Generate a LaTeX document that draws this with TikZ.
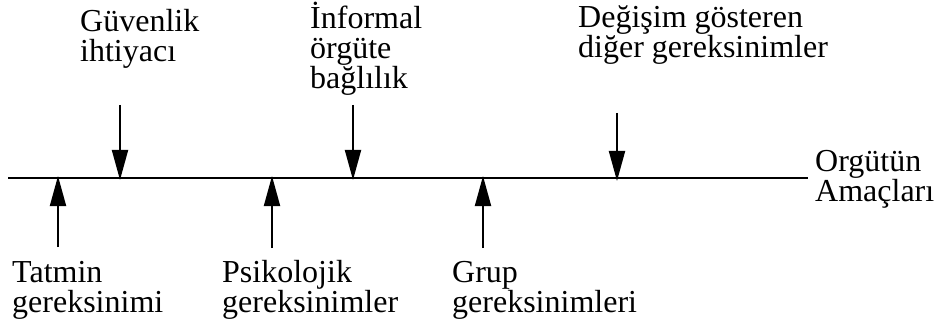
\documentclass[tikz,border=0pt]{standalone}
\usepackage{fontspec}
\setmainfont{Liberation Serif}
\usetikzlibrary{arrows.meta}

\begin{document}
\begin{tikzpicture}[x=1pt,y=-1pt,font=\fontsize{32}{30}\selectfont]
  \useasboundingbox (0,0) rectangle (948,326);
  % The organisation's goals run along one horizontal axis.
  \coordinate (axisL) at (8,178);
  \coordinate (axisR) at (808,178);
  \draw[line width=2.4pt] (axisL) -- (axisR);
  \node[anchor=base west,align=left,inner sep=0pt] (goal) at (815,201) {Orgütün\\Amaçları};

  % Needs pressing on the axis from above and below (anchored at the last baseline).
  \tikzset{need/.style={anchor=base west,align=left,inner sep=0pt},
           push/.style={line width=1.9pt,-{Triangle[length=30pt,width=16pt]}}}
  \node[need] (safety) at (80,62) {Güvenlik\\ihtiyacı};
  \node[need] (informal) at (310,89) {İnformal\\örgüte\\bağlılık};
  \node[need] (other) at (578,58) {Değişim gösteren\\diğer gereksinimler};
  \node[need] (satisf) at (12,312) {Tatmin\\gereksinimi};
  \node[need] (psych) at (222,312) {Psikolojik\\gereksinimler};
  \node[need] (group) at (452,312) {Grup\\gereksinimleri};

  \coordinate (safetyS) at (120,105);  \coordinate (safetyT) at (120,180);
  \coordinate (informalS) at (353,105); \coordinate (informalT) at (353,180);
  \coordinate (otherS) at (617,113);   \coordinate (otherT) at (617,181);
  \coordinate (satisfS) at (58,247);   \coordinate (satisfT) at (58,176);
  \coordinate (psychS) at (272,248);   \coordinate (psychT) at (272,176);
  \coordinate (groupS) at (483,248);   \coordinate (groupT) at (483,176);
  \foreach \n in {safety,informal,other,satisf,psych,group}
    \draw[push] (\n S) -- (\n T);
\end{tikzpicture}
\end{document}
